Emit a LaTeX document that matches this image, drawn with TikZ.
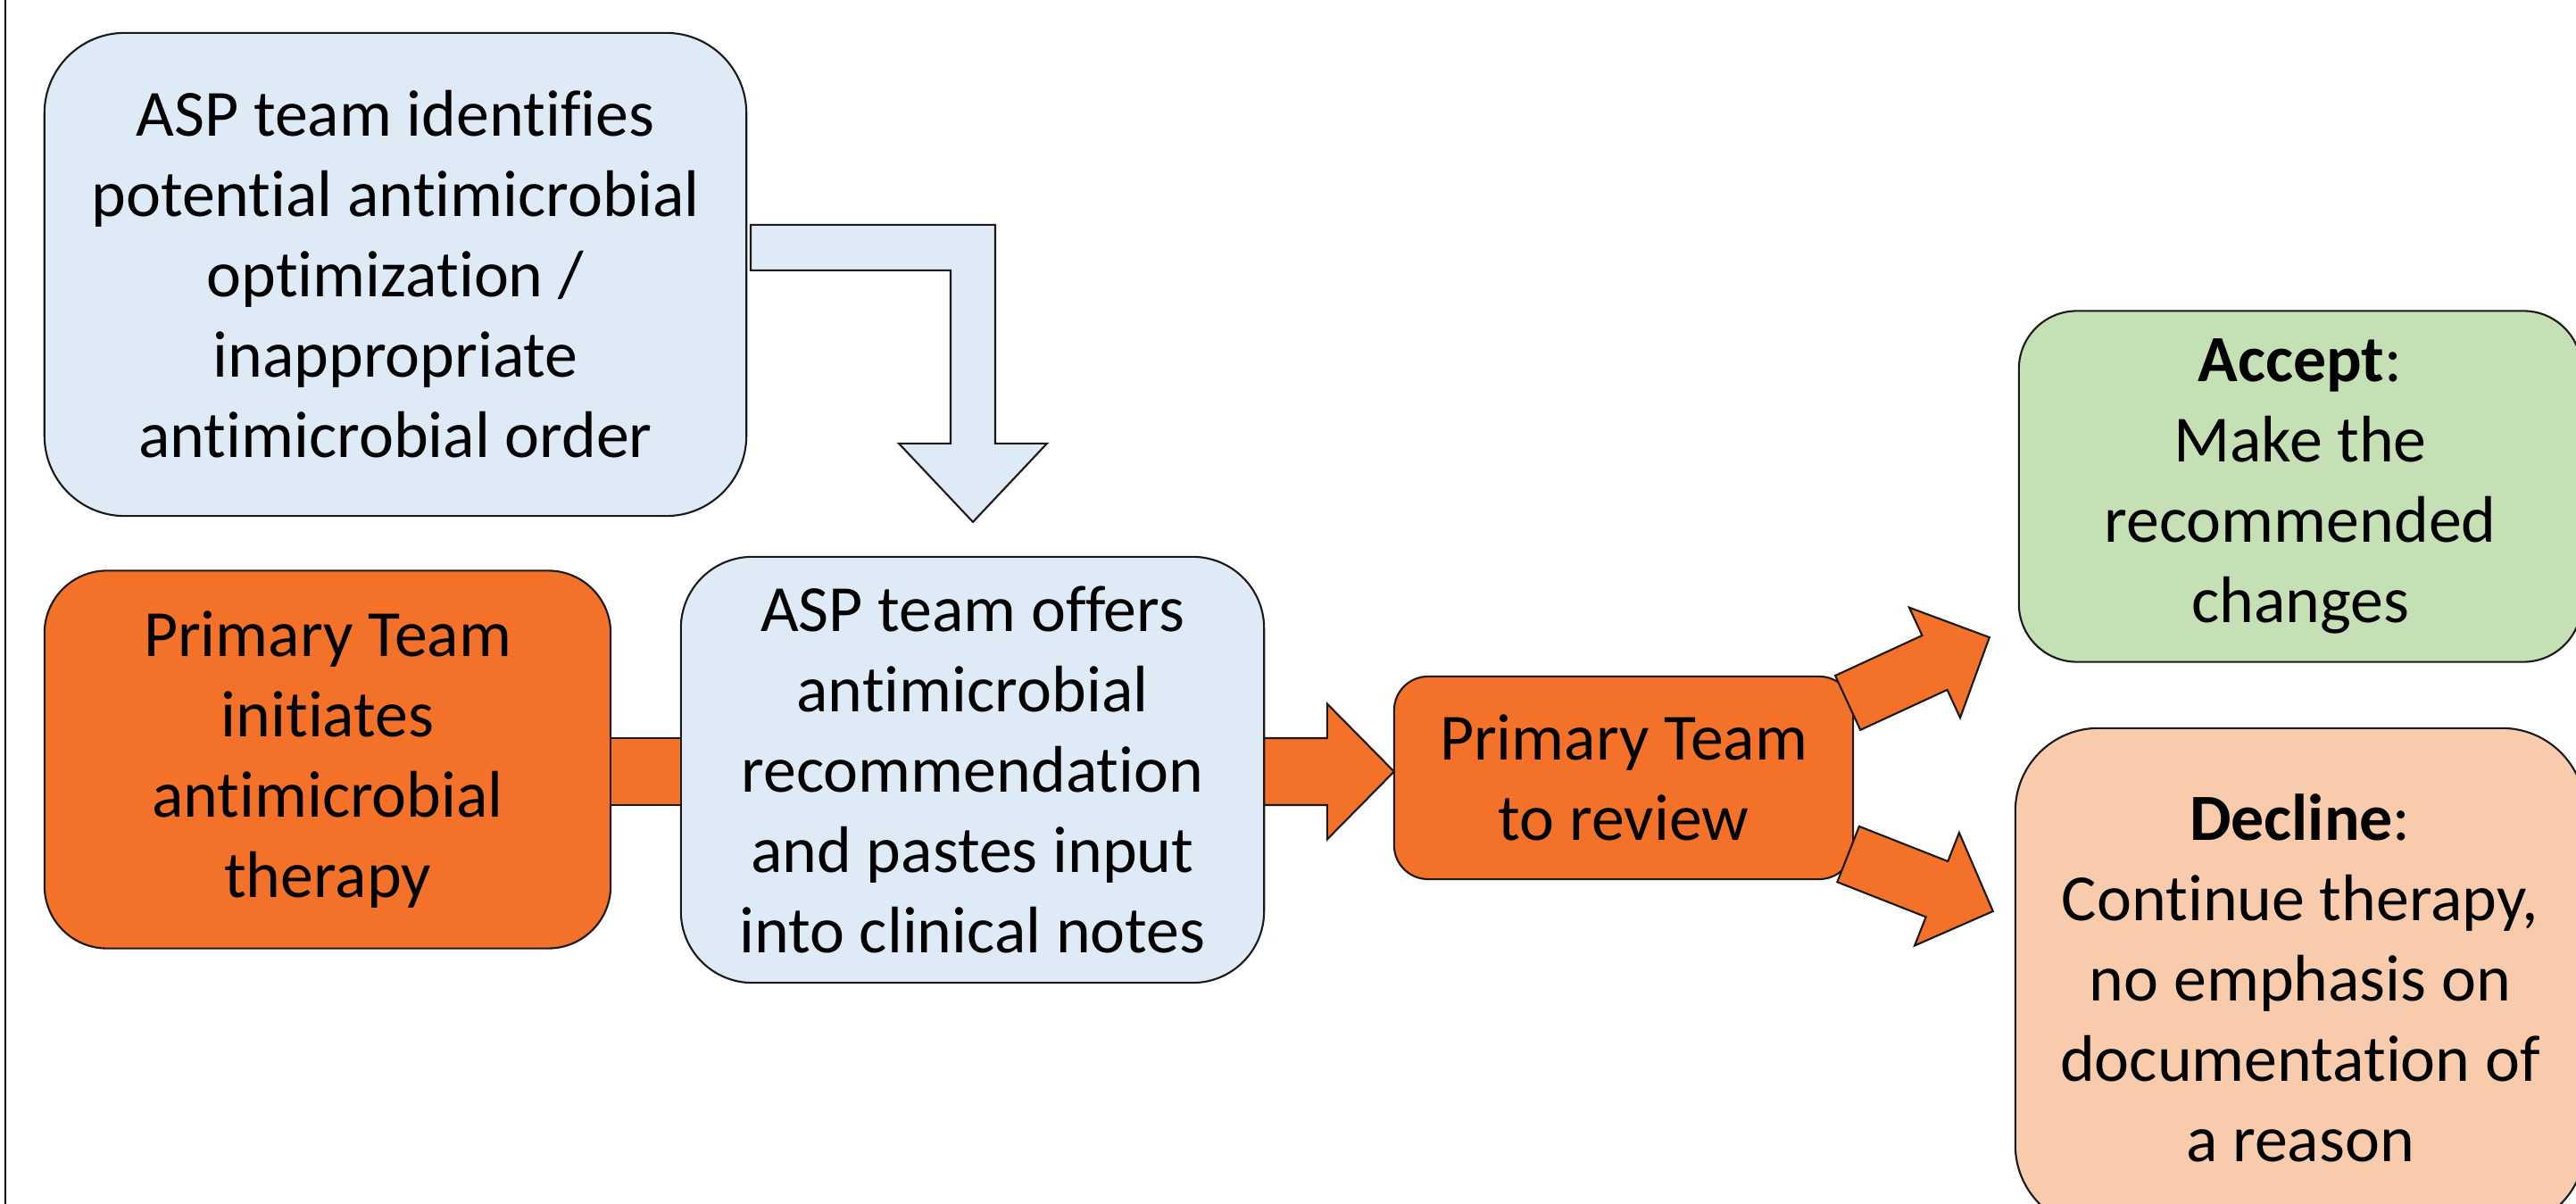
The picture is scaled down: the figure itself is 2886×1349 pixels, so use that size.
\documentclass[tikz,border=0pt]{standalone}
\usepackage{fontspec}
\setmainfont{Carlito}[Ligatures={NoCommon}]
\usetikzlibrary{calc}

\definecolor{aspblue}{HTML}{DEEBF7}
\definecolor{ptorange}{HTML}{F37128}
\definecolor{okgreen}{HTML}{C5E0B4}
\definecolor{nopeach}{HTML}{F8CBAD}
\definecolor{edgeline}{HTML}{1A1A1A}

% Block arrow: #1 style, #2 tail point, #3 tip point,
% #4 half shaft width, #5 half head width, #6 head length
\newcommand\blockarr[6]{%
  \coordinate (hb) at ($(#3)!#6!(#2)$);
  \draw[#1] ($(#2)!#4!90:(#3)$) -- ($(hb)!#4!90:(#3)$) -- ($(hb)!#5!90:(#3)$)
    -- (#3) -- ($(hb)!#5!-90:(#3)$) -- ($(hb)!#4!-90:(#3)$)
    -- ($(#2)!#4!-90:(#3)$) -- cycle;
}

\begin{document}
\begin{tikzpicture}[x=0.01cm, y=-0.01cm,
  box/.style={draw=edgeline, line width=0.6pt, align=center, inner sep=0pt,
    outer sep=0pt, text=black, font=\fontsize{21}{25.6}\selectfont},
  conn/.style={draw=edgeline, line width=0.6pt, fill=ptorange, line join=miter},
  bent/.style={draw=edgeline, line width=0.6pt, fill=aspblue, line join=miter}]

\useasboundingbox (0,0) rectangle (2886,1349);
\fill[white] (0,0) rectangle (2886,1349);
\clip (0,0) rectangle (2886,1349);

% frame line on the left
\draw[line width=0.8pt, black] (6,0) -- (6,1349);

% process boxes
\node[box, fill=aspblue, minimum width=7.86cm, minimum height=5.41cm,
  rounded corners=0.9cm] (b1) at (443,307.5)
  {ASP team identifies\\potential antimicrobial\\optimization /\\inappropriate\\antimicrobial order};

\node[box, fill=ptorange, minimum width=6.34cm, minimum height=4.23cm,
  rounded corners=0.7cm] (b2) at (367,851)
  {Primary Team\\initiates\\antimicrobial\\therapy};

\node[box, fill=aspblue, minimum width=6.53cm, minimum height=4.77cm,
  rounded corners=0.8cm] (b3) at (1089.5,862.5)
  {ASP team offers\\antimicrobial\\recommendation\\and pastes input\\into clinical notes};

\node[box, fill=ptorange, minimum width=5.14cm, minimum height=2.27cm,
  rounded corners=0.38cm] (b4) at (1819,871.5)
  {Primary Team\\to review};

\node[box, fill=okgreen, minimum width=6.30cm, minimum height=3.93cm,
  rounded corners=0.65cm] (acc) at (2577,545)
  {\textbf{Accept}:\\Make the\\recommended\\changes};

\node[box, fill=nopeach, minimum width=6.38cm, minimum height=5.60cm,
  rounded corners=0.93cm] (dec) at (2577,1096)
  {\textbf{Decline}:\\Continue therapy,\\no emphasis on\\documentation of\\a reason};

% bent arrow from the first box down to the recommendation box
\coordinate (t) at ($(b3.north)+(0.5,-39)$);
\draw[bent] ($(t)+(-249,-333)$) -- ($(t)+(25,-333)$) -- ($(t)+(25,-88)$)
  -- ($(t)+(83,-88)$) -- (t) -- ($(t)+(-83,-88)$) -- ($(t)+(-25,-88)$)
  -- ($(t)+(-25,-282)$) -- ($(t)+(-249,-282)$) -- cycle;

% bar joining the primary team box to the recommendation box
\draw[conn] (b2.east |- 0,827) rectangle (b3.west |- 0,902);

% arrow to the review box
\coordinate (r0) at (b3.east |- 0,864.5);
\coordinate (r1) at (b4.west |- 0,864.5);
\blockarr{conn}{r0}{r1}{0.375cm}{0.76cm}{0.75cm}

% arrows to the two outcomes
\coordinate (u0) at ($(b4.north east)+(-6,29.5)$);
\coordinate (u1) at ($(acc.south west)+(-33,-27.5)$);
\blockarr{conn}{u0}{u1}{0.335cm}{0.68cm}{0.675cm}

\coordinate (d0) at ($(b4.south east)+(-5.5,-28)$);
\coordinate (d1) at ($(dec.west)+(-25,-75)$);
\blockarr{conn}{d0}{d1}{0.335cm}{0.68cm}{0.675cm}

\end{tikzpicture}
\end{document}
